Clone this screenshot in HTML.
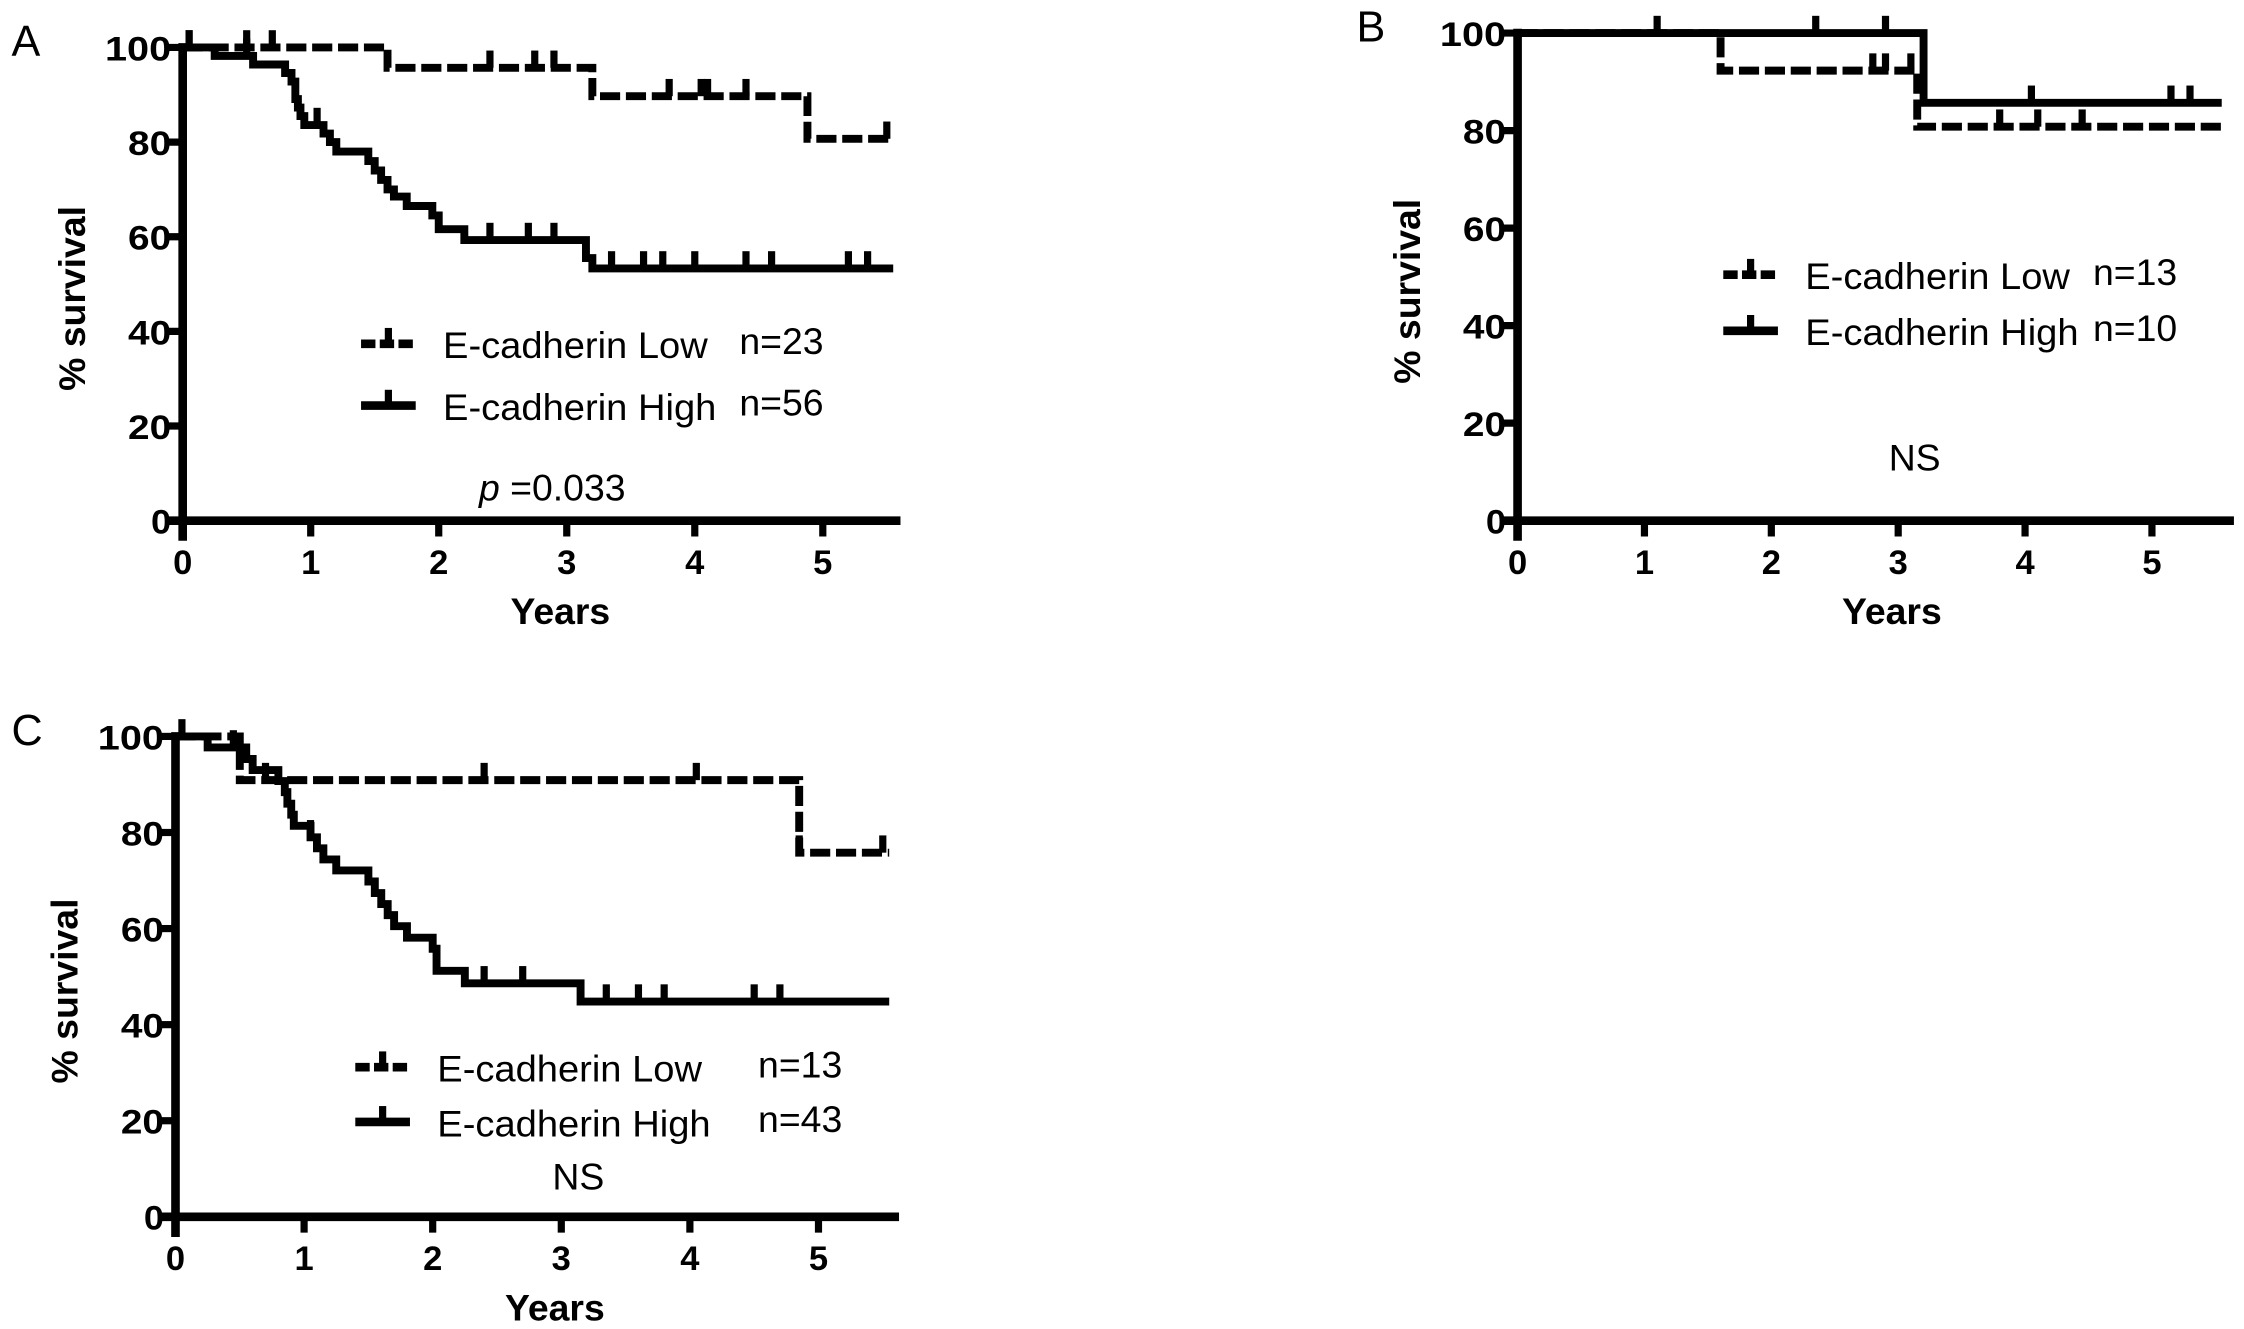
<!DOCTYPE html>
<html><head><meta charset="utf-8">
<style>
html,body{margin:0;padding:0;background:#fff;}
svg{display:block;}
text{font-family:"Liberation Sans",sans-serif;fill:#000;}
.tick{font-weight:bold;font-size:24px;}
.ttl{font-weight:bold;font-size:26px;}
.leg{font-size:26px;}
.lett{font-size:30px;}
</style></head>
<body>
<svg id="fig" width="2244" height="1329" viewBox="0 0 1560 924" preserveAspectRatio="none" xmlns="http://www.w3.org/2000/svg"></svg>
<script>
// ---------- data ----------
const yTicks = [0, 20, 40, 60, 80, 100];
const xTicks = [0, 1, 2, 3, 4, 5];
// Panel A
const aLowTimes = [1.6, 3.2, 4.88];
const aLowVals = [95.7, 89.7, 80.7];
const aLowCens = [0.05, 0.5, 0.7, 2.4, 2.75, 2.9, 3.8, 4.05, 4.1, 4.4, 5.5];
const aHighTimes = [0.25, 0.55, 0.8, 0.85, 0.88, 0.9, 0.92, 0.95, 1.1, 1.15, 1.2, 1.45, 1.5, 1.55, 1.6, 1.65, 1.75, 1.95, 2.0, 2.2, 3.15, 3.2];
const aHighVals = [98.2, 96.4, 94.6, 92.8, 89.1, 87.3, 85.5, 83.6, 81.8, 80, 78, 76, 74, 72, 70, 68.5, 66.5, 64.5, 61.6, 59.3, 55.5, 53.3];
const aHighCens = [0.05, 0.5, 1.05, 2.4, 2.7, 2.9, 3.35, 3.6, 3.75, 4.0, 4.4, 4.6, 5.2, 5.35];
// Panel B
const bLowTimes = [1.6, 3.15];
const bLowVals = [92.3, 80.8];
const bLowCens = [2.8, 2.9, 3.1, 3.8, 4.1, 4.45];
const bHighTimes = [3.2];
const bHighVals = [85.7];
const bHighCens = [1.1, 2.35, 2.9, 4.05, 5.15, 5.3];
// Panel C
const cLowTimes = [0.5, 4.85];
const cLowVals = [90.9, 75.8];
const cLowCens = [0.7, 2.4, 4.05, 4.85, 5.5];
const cHighTimes = [0.25, 0.55, 0.6, 0.8, 0.85, 0.87, 0.9, 0.92, 1.05, 1.1, 1.15, 1.25, 1.5, 1.55, 1.6, 1.65, 1.7, 1.8, 2.0, 2.03, 2.25, 3.15];
const cHighVals = [97.7, 95.3, 93, 90.7, 88.4, 86, 83.7, 81.4, 79, 76.7, 74.4, 72.1, 69.8, 67.4, 65.1, 62.8, 60.5, 58.1, 55.8, 51.2, 48.6, 44.8];
const cHighCens = [0.05, 0.45, 1.05, 2.4, 2.7, 3.35, 3.6, 3.8, 4.5, 4.7];

const NS = "http://www.w3.org/2000/svg";
const svg = document.getElementById('fig');
function mk(tag, attrs, parent, txt){
  const e = document.createElementNS(NS, tag);
  for (const k in attrs) e.setAttribute(k, attrs[k]);
  if (txt !== undefined) e.textContent = txt;
  (parent || svg).appendChild(e);
  return e;
}
function survAt(times, vals, t){
  let v = 100;
  for (let i = 0; i < times.length; i++) if (times[i] <= t) v = vals[i];
  return v;
}
function panel(cfg){
  const g = mk('g', {});
  
  
  const X = t => cfg.x0 + t * cfg.px;
  const Y = v => cfg.y0 - (v / 100) * (cfg.y0 - cfg.y100);
  const ya = mk('line', {x1: X(0), y1: Y(100) - 3, x2: X(0), y2: Y(0) + 14, stroke: '#000', 'stroke-width': 6}, g);
  
  
  const xa = mk('line', {x1: X(0) - 12, y1: Y(0), x2: cfg.xEnd, y2: Y(0), stroke: '#000', 'stroke-width': 6}, g);
  
  
  yTicks.forEach(v => {
    mk('line', {x1: X(0) - 11, y1: Y(v), x2: X(0), y2: Y(v), stroke: '#000', 'stroke-width': 5}, g);
    const t = mk('text', {x: X(0) - 8, y: Y(v) + 9, 'text-anchor': 'end', class: 'tick', textLength: v === 100 ? 46 : (v === 0 ? 14 : 30), lengthAdjust: 'spacingAndGlyphs'}, g, String(v));
    
    
  });
  xTicks.forEach(v => {
    mk('line', {x1: X(v), y1: Y(0), x2: X(v), y2: Y(0) + 11, stroke: '#000', 'stroke-width': 5}, g);
    const t = mk('text', {x: X(v), y: Y(0) + 37, 'text-anchor': 'middle', class: 'tick'}, g, String(v));
    
    
  });
  const xt = mk('text', {x: X(2.95), y: Y(0) + 72, 'text-anchor': 'middle', class: 'ttl'}, g, 'Years');
  
  
  const ymid = (Y(0) + Y(100)) / 2 + 10;
  const yt = mk('text', {x: 0, y: 0, 'text-anchor': 'middle', class: 'ttl', transform: `translate(${X(0) - 68},${ymid}) rotate(-90)`}, g, '% survival');
  
  
  const lt = mk('text', {x: cfg.letterX, y: Y(100) + 6, class: 'lett'}, g, cfg.letter);
  
  
  cfg.series.forEach(s => {
    let d = `M${X(0)},${Y(100)}`;
    s.times.forEach((t, i) => { d += ` H${X(t)} V${Y(s.vals[i])}`; });
    d += ` H${X(cfg.tEnd)}`;
    const p = mk('path', {d: d, fill: 'none', stroke: '#000', 'stroke-width': 5.5, 'stroke-dasharray': s.dashed ? '14 4' : 'none'}, g);
    
    
    s.cens.forEach(t => {
      const yv = Y(survAt(s.times, s.vals, t));
      const c = mk('line', {x1: X(t), y1: yv, x2: X(t), y2: yv - 12, stroke: '#000', 'stroke-width': 5}, g);
      
      
    });
  });
  cfg.legend.forEach((L, i) => {
    const ly = cfg.legY + i * cfg.legGap;
    const lg = mk('g', {}, g);
    
    
    mk('line', {x1: cfg.legX, y1: ly, x2: cfg.legX + 38, y2: ly, stroke: '#000', 'stroke-width': 6, 'stroke-dasharray': L.dashed ? '10 3' : 'none'}, lg);
    mk('line', {x1: cfg.legX + 19, y1: ly, x2: cfg.legX + 19, y2: ly - 11, stroke: '#000', 'stroke-width': 5}, lg);
    mk('text', {x: cfg.legX + 57, y: ly + 10, class: 'leg', textLength: L.dashed ? 184 : 190, lengthAdjust: 'spacingAndGlyphs'}, lg, L.label);
    mk('text', {x: cfg.nX, y: ly + 7, class: 'leg'}, lg, L.n);
  });
  const st = mk('text', {x: cfg.statX, y: cfg.statY, class: 'leg'}, g);
  
  
  if (cfg.pval) {
    mk('tspan', {'font-style': 'italic'}, st, 'p');
    mk('tspan', {}, st, ' =' + cfg.pval);
  } else st.textContent = 'NS';
}
panel({name: 'panel-a', letter: 'A', letterX: 8, x0: 127, px: 89, y0: 362, y100: 33, xEnd: 626, tEnd: 5.55,
  series: [
    {key: 'low', dashed: true, times: aLowTimes, vals: aLowVals, cens: aLowCens},
    {key: 'high', dashed: false, times: aHighTimes, vals: aHighVals, cens: aHighCens}],
  legend: [{key: 'low', dashed: true, label: 'E-cadherin Low', n: 'n=23'}, {key: 'high', dashed: false, label: 'E-cadherin High', n: 'n=56'}],
  legX: 251, legY: 239, legGap: 43, nX: 514, statX: 333, statY: 348, pval: '0.033'});
panel({name: 'panel-b', letter: 'B', letterX: 943, x0: 1055, px: 88.2, y0: 362, y100: 23, xEnd: 1553, tEnd: 5.55,
  series: [
    {key: 'low', dashed: true, times: bLowTimes, vals: bLowVals, cens: bLowCens},
    {key: 'high', dashed: false, times: bHighTimes, vals: bHighVals, cens: bHighCens}],
  legend: [{key: 'low', dashed: true, label: 'E-cadherin Low', n: 'n=13'}, {key: 'high', dashed: false, label: 'E-cadherin High', n: 'n=10'}],
  legX: 1198, legY: 191, legGap: 39, nX: 1455, statX: 1313, statY: 327});
panel({name: 'panel-c', letter: 'C', letterX: 8, x0: 122, px: 89.4, y0: 846, y100: 512, xEnd: 625, tEnd: 5.55,
  series: [
    {key: 'low', dashed: true, times: cLowTimes, vals: cLowVals, cens: cLowCens},
    {key: 'high', dashed: false, times: cHighTimes, vals: cHighVals, cens: cHighCens}],
  legend: [{key: 'low', dashed: true, label: 'E-cadherin Low', n: 'n=13'}, {key: 'high', dashed: false, label: 'E-cadherin High', n: 'n=43'}],
  legX: 247, legY: 742, legGap: 38, nX: 527, statX: 384, statY: 827});
</script>
</body></html>
